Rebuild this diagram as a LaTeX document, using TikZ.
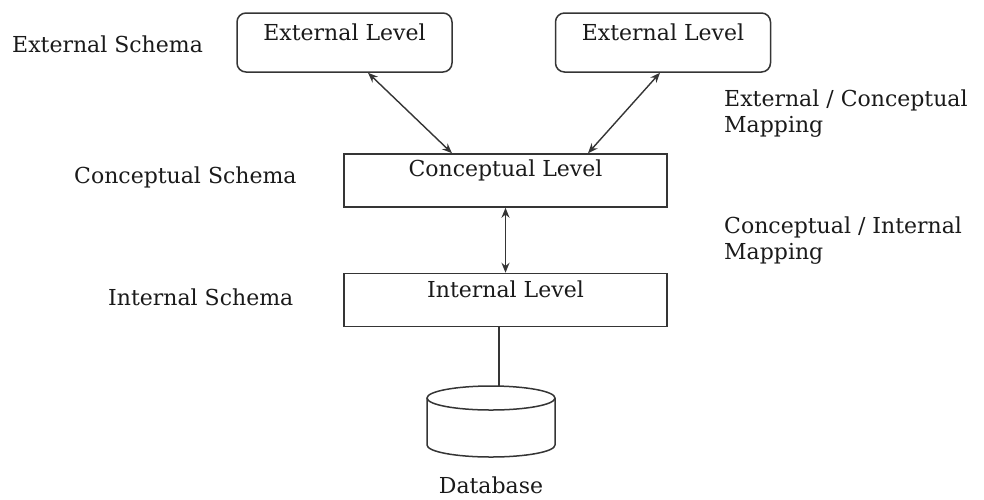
\documentclass[tikz,border=0pt]{standalone}
\usepackage{fontspec}
\setmainfont{DejaVu Serif}
\usetikzlibrary{arrows.meta,positioning,calc}
\definecolor{inkline}{HTML}{353535}
\definecolor{inktext}{HTML}{1A1A1A}
\begin{document}
\begin{tikzpicture}[x=1pt,y=-1pt,
  every node/.style={text=inktext,font=\fontsize{22}{26}\selectfont},
  levelbox/.style={draw=inkline,line width=1.5pt,minimum width=323pt,minimum height=53pt,inner sep=0pt},
  extbox/.style={draw=inkline,line width=1.5pt,rounded corners=9pt,minimum width=215pt,minimum height=59pt,inner sep=0pt},
  boxtext/.style={inner sep=0pt,anchor=center},
  sidetext/.style={inner sep=0pt,align=left,anchor=west},
  biarrow/.style={draw=inkline,line width=1.4pt,{Stealth[length=10pt,width=8pt]}-{Stealth[length=10pt,width=8pt]}},
  wire/.style={draw=inkline,line width=1.5pt}]
\useasboundingbox (0,0) rectangle (984,499);

% boxes of the three levels
\node[extbox] (extL) at (344.5,42.5) {};
\node[extbox] (extR) at (663,42.5) {};
\node[levelbox] (conc) at (505.5,180.5) {};
\node[levelbox] (intl) at (505.5,300) {};

\node[boxtext] (extLt) at (344.5,32) {External Level};
\node[boxtext] (extRt) at (663,32) {External Level};
\node[boxtext] (conct) at (505.5,170) {Conceptual Level};
\node[boxtext] (intlt) at (505.5,289) {Internal Level};

% schema names on the left
\node[sidetext] (sExt) at (12,44) {External Schema};
\node[sidetext] (sConc) at (74,177) {Conceptual Schema};
\node[sidetext] (sInt) at (108,297) {Internal Schema};

% mapping names on the right
\node[sidetext] (mEC) at (724,114) {External / Conceptual\\Mapping};
\node[sidetext] (mCI) at (724,241) {Conceptual / Internal\\Mapping};

% mappings between levels
\draw[biarrow] ([xshift=23.5pt]extL.south) -- ([xshift=-53.5pt]conc.north);
\draw[biarrow] ([xshift=-3pt]extR.south) -- ([xshift=82.5pt]conc.north);
\draw[biarrow,line width=1.8pt] (conc.south) -- (intl.south |- intl.north);

% stored database
\coordinate (dbtop) at (499,386);
\draw[wire] ([xshift=-6.5pt]intl.south) -- (dbtop);
\draw[wire,fill=white] (427,398) -- (427,445) arc[start angle=180,end angle=0,x radius=64,y radius=12] -- (555,398);
\draw[wire] (491,398) ellipse[x radius=64,y radius=12];
\node[inner sep=0pt] (dbname) at (491,485) {Database};
\end{tikzpicture}
\end{document}
